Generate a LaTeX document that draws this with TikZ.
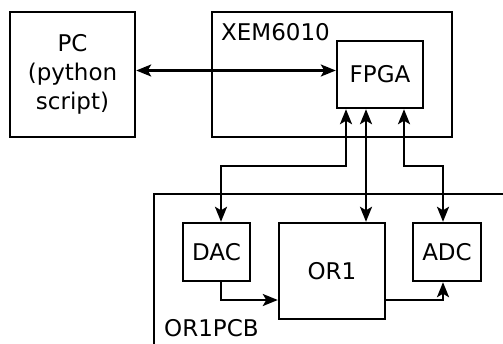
\documentclass[tikz,border=0pt]{standalone}
\usepackage{fontspec}
\setmainfont{DejaVu Sans}
\usetikzlibrary{arrows.meta}
\begin{document}
\begin{tikzpicture}[x=1pt,y=-1pt,
  every node/.style={font=\fontsize{23}{29}\selectfont},
  blk/.style={draw,line width=2.4pt,inner sep=0pt,align=center},
  conn/.style={line width=2.4pt,-{Stealth[length=15pt,width=12pt,inset=3.5pt]}},
  bconn/.style={line width=2.4pt,{Stealth[length=15pt,width=12pt,inset=3.5pt]}-{Stealth[length=15pt,width=12pt,inset=3.5pt]}},
  lbl/.style={inner sep=0pt,anchor=base west}]
\useasboundingbox (0,0) rectangle (503,343);
\node[blk,minimum width=125pt,minimum height=125pt] (PC) at (72.5,74.5) {PC\\(python\\script)};
\node[blk,minimum width=240pt,minimum height=125pt] (XEM) at (332,74.5) {};
\node[lbl] (XEMl) at (221,40.5) {XEM6010};
\node[blk,minimum width=86pt,minimum height=67pt] (FPGA) at (380,74.5) {FPGA};
\draw[line width=2.4pt] (154,350) -- (154,194) -- (510,194);
\node[lbl] (PCBl) at (164,336.5) {OR1PCB};
\node[blk,minimum width=67pt,minimum height=58pt] (DAC) at (216.5,252) {DAC};
\node[blk,minimum width=106pt,minimum height=96pt] (OR1) at (332,271) {OR1};
\node[blk,minimum width=68pt,minimum height=58pt] (ADC) at (447,252) {ADC};
\draw[bconn] ([yshift=4pt]PC.east) -- ([yshift=4pt]FPGA.west);
\draw[bconn] ([xshift=-34pt]FPGA.south) -- ++(0,57) -| ([xshift=4.5pt]DAC.north);
\draw[bconn] ([xshift=-14pt]FPGA.south) -- ([xshift=-14pt]FPGA.south |- OR1.north);
\draw[bconn] ([xshift=24pt]FPGA.south) -- ++(0,57) -| ([xshift=-4pt]ADC.north);
\draw[conn] ([xshift=4.5pt]DAC.south) |- ([yshift=-29pt]OR1.west);
\draw[conn] ([yshift=-29pt]OR1.east) -| ([xshift=-4pt]ADC.south);
\end{tikzpicture}
\end{document}
